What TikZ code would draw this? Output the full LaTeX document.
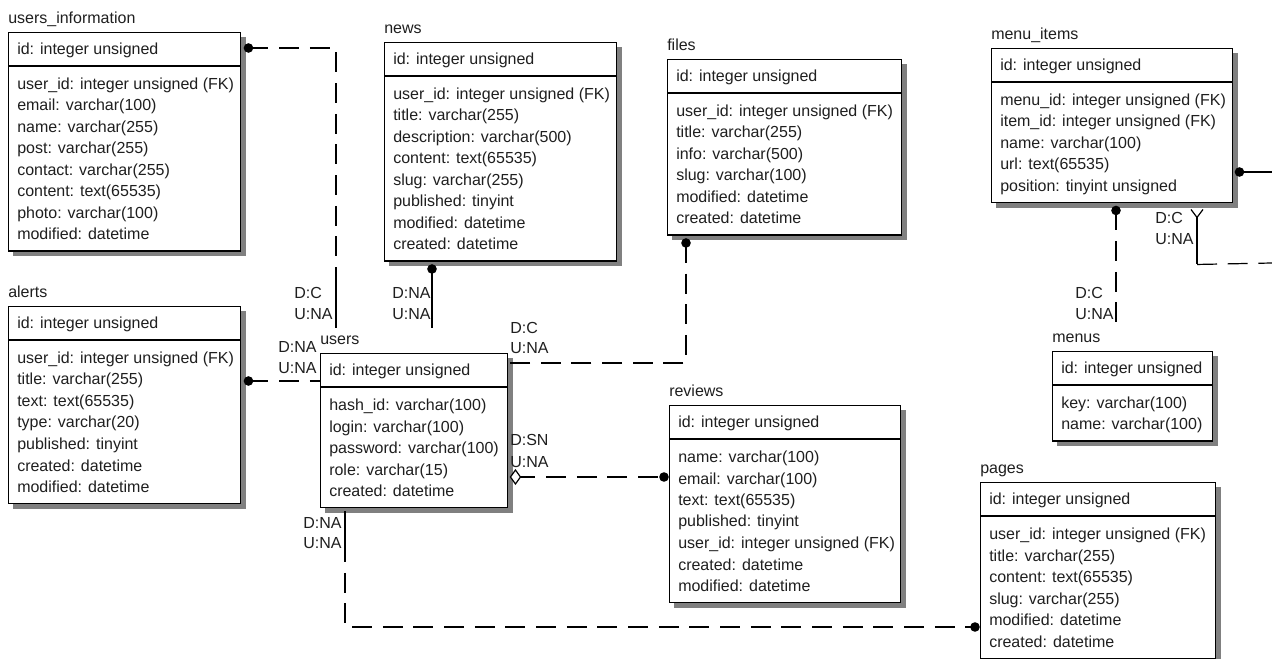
\documentclass[tikz,border=0pt]{standalone}
\usepackage{fontspec}
\setmainfont{Liberation Sans}
\usetikzlibrary{calc}
\tikzset{
  ertext/.style={inner sep=0pt, font=\fontsize{12}{14}\selectfont, text=black!88},
  erbox/.style={draw=black, line width=1.1pt, fill=white, inner sep=0pt},
  erline/.style={draw=black, line width=1.1pt},
  shadowfill/.style={fill=black!50},
  rel/.style={draw=black, line width=0.9pt, dash pattern=on 15pt off 8pt},
  relsolid/.style={draw=black, line width=0.9pt},
  dotend/.style={fill=black},
  lbl/.style={ertext, anchor=base west},
}
% #1 name, #2 x, #3 y, #4 width, #5 height, #6 title, #7 rows
\newcommand\erent[7]{%
  \fill[shadowfill] (#2+5,#3+5) rectangle (#2+#4+6,#3+#5+6);
  \node[erbox, minimum width=#4*0.75pt, minimum height=#5*0.75pt, anchor=north west] (#1) at (#2,#3) {};
  \node[ertext, anchor=base west] (#1-t) at (#2,#3-8.5) {#6};
  \node[ertext, anchor=base west] (#1-id) at (#2+9,#3+22.5) {id: integer unsigned};
  \draw[erline] (#1.north west) ++(0,34) -- ++(#4,0);
  \foreach \r [count=\i] in {#7} {\node[ertext, anchor=base west] (#1-r\i) at (#2+9,#3+57.5+\i*21.5-21.5) {\r};}
}
\begin{document}
\begin{tikzpicture}[x=0.75pt,y=-0.75pt]
\useasboundingbox[fill=white] (0,0) rectangle (1272,659);

\erent{ui}{8}{32}{232}{218.5}{users\_information}{user\_id: integer unsigned (FK), email: varchar(100), name: varchar(255), post: varchar(255), contact: varchar(255), content: text(65535), photo: varchar(100), modified: datetime}
\erent{news}{384}{42}{232}{218.5}{news}{user\_id: integer unsigned (FK), title: varchar(255), description: varchar(500), content: text(65535), slug: varchar(255), published: tinyint, modified: datetime, created: datetime}
\erent{files}{667}{59}{234}{175.5}{files}{user\_id: integer unsigned (FK), title: varchar(255), info: varchar(500), slug: varchar(100), modified: datetime, created: datetime}
\erent{mi}{991}{48}{241}{154}{menu\_items}{menu\_id: integer unsigned (FK), item\_id: integer unsigned (FK), name: varchar(100), url: text(65535), position: tinyint unsigned}
\erent{menus}{1052}{351}{160}{89.5}{menus}{key: varchar(100), name: varchar(100)}
\erent{alerts}{8}{306}{232}{197}{alerts}{user\_id: integer unsigned (FK), title: varchar(255), text: text(65535), type: varchar(20), published: tinyint, created: datetime, modified: datetime}
\erent{users}{320}{353}{187}{154}{users}{hash\_id: varchar(100), login: varchar(100), password: varchar(100), role: varchar(15), created: datetime}
\erent{reviews}{669}{405}{231}{197}{reviews}{name: varchar(100), email: varchar(100), text: text(65535), published: tinyint, user\_id: integer unsigned (FK), created: datetime, modified: datetime}
\erent{pages}{980}{482}{235}{175.5}{pages}{user\_id: integer unsigned (FK), title: varchar(255), content: text(65535), slug: varchar(255), modified: datetime, created: datetime}

% A: users_information -> users
\coordinate (A0) at ([shift={(7,16)}]ui.north east);
\coordinate (A1) at ([shift={(16,-25)}]users.north west);
\draw[rel] (A0) -| (A1);
\draw[relsolid] (A1) -- ++(0,-45);
% B: news -> users
\coordinate (B0) at ([shift={(48,7)}]news.south west);
\draw[relsolid] (B0) -- (B0 |- A1);
% C: files -> users
\coordinate (C0) at ([shift={(19,7)}]files.south west);
\coordinate (C1) at ([shift={(2,10)}]users.north east);
\draw[rel] (C0) |- (C1);
% D: alerts -> users
\coordinate (D0) at ([shift={(7,75)}]alerts.north east);
\coordinate (D1) at (D0 -| users.west);
\draw[rel] (D0) -- (D1);
% E: reviews -> users
\coordinate (E0) at ([shift={(7,124)}]users.north east);
\coordinate (E1) at ([shift={(-5,72)}]reviews.north west);
\draw[rel] (E0) -- (E1);
\draw[relsolid, fill=white] (E0) ++(-5,0) -- ++(5,-7) -- ++(5,7) -- ++(-5,7) -- cycle;
% F: pages -> users
\coordinate (F0) at ([shift={(25,3)}]users.south west);
\coordinate (F1) at ([shift={(-5,145)}]pages.north west);
\draw[rel] (F0) |- (F1);
\draw[relsolid] (F0) -- ++(0,40);
% G: menu_items -> menus
\coordinate (G0) at ([shift={(125,7)}]mi.south west);
\coordinate (G1) at ([shift={(64,-23)}]menus.north west);
\draw[rel] (G0) -- (G1);
% H: menu_items self reference
\coordinate (H0) at ([shift={(6,124)}]mi.north east);
\coordinate (H1) at (1272,172);
\draw[relsolid] (H0) -- (H1);
\coordinate (H2) at ([shift={(206,6)}]mi.south west);
\coordinate (H3) at ([shift={(0,55)}]H2);
\coordinate (H4) at (1272,263);
\draw[relsolid] (H2) ++(-6,0) -- ++(6,8) -- ++(6,-8);
\draw[relsolid] ([shift={(0,8)}]H2) -- (H3);
\draw[rel] (H3) -- (H4);

% dots
\foreach \p in {A0,B0,C0,D0,E1,F1,G0,H0} \fill[dotend] (\p) circle[radius=3.6pt];

% labels
\node[lbl] (lA1) at (294,298.5) {D:C};
\node[lbl] (lA2) at (294,319.5) {U:NA};
\node[lbl] (lB1) at (392,298.5) {D:NA};
\node[lbl] (lB2) at (392,319.5) {U:NA};
\node[lbl] (lC1) at (510,333.5) {D:C};
\node[lbl] (lC2) at (510,353.5) {U:NA};
\node[lbl] (lD1) at (278,352.5) {D:NA};
\node[lbl] (lD2) at (278,373.5) {U:NA};
\node[lbl] (lE1) at (510,445.5) {D:SN};
\node[lbl] (lE2) at (510,467.5) {U:NA};
\node[lbl] (lF1) at (303,528.5) {D:NA};
\node[lbl] (lF2) at (303,548.5) {U:NA};
\node[lbl] (lG1) at (1075,298.5) {D:C};
\node[lbl] (lG2) at (1075,319.5) {U:NA};
\node[lbl] (lH1) at (1155,223.5) {D:C};
\node[lbl] (lH2) at (1155,244.5) {U:NA};
\end{tikzpicture}
\end{document}
